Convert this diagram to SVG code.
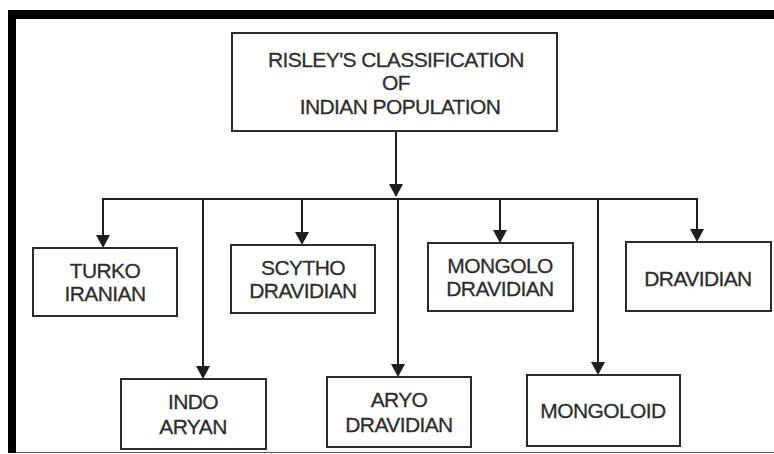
<svg xmlns="http://www.w3.org/2000/svg" width="774" height="454" viewBox="0 0 774 454">
<style>
.box{fill:#fff;stroke:#2b2b2b;stroke-width:2}
.t{font-family:"Liberation Sans",Arial,sans-serif;font-size:21px;fill:#2e2e2e;stroke:#2e2e2e;stroke-width:0.3;text-anchor:middle;letter-spacing:-0.6px}
.c{stroke:#1e1e1e;stroke-width:2;fill:none}
.ah{fill:#1e1e1e}
</style>
<rect width="774" height="454" fill="#fff"/>
<g id="frame">
<rect x="8" y="10" width="766" height="9" fill="#000"/>
<rect x="8" y="10" width="8" height="443" fill="#000"/>
<line x1="16" y1="452.5" x2="774" y2="452.5" stroke="#555" stroke-width="1"/>
</g>
<g id="connectors">
<path class="c" d="M396,131 V184"/>
<path class="ah" d="M389,184 L403,184 L396,197 Z"/>
<path class="c" d="M102,199 H698"/>
<path class="c" d="M103,199 V236"/><path class="ah" d="M96,235 L110,235 L103,248 Z"/>
<path class="c" d="M203,199 V367"/><path class="ah" d="M196,366 L210,366 L203,379 Z"/>
<path class="c" d="M302,199 V233"/><path class="ah" d="M295,232 L309,232 L302,245 Z"/>
<path class="c" d="M398,199 V365"/><path class="ah" d="M391,364 L405,364 L398,377 Z"/>
<path class="c" d="M500,199 V231"/><path class="ah" d="M493,230 L507,230 L500,243 Z"/>
<path class="c" d="M598,199 V363"/><path class="ah" d="M591,362 L605,362 L598,375 Z"/>
<path class="c" d="M697,199 V230"/><path class="ah" d="M690,229 L704,229 L697,242 Z"/>
</g>
<g id="root">
<rect class="box" x="232" y="33" width="325" height="98"/>
<text class="t" x="396" y="67">RISLEY'S CLASSIFICATION</text>
<text class="t" x="396" y="90">OF</text>
<text class="t" x="400" y="114">INDIAN POPULATION</text>
</g>
<g id="turko-iranian">
<rect class="box" x="33" y="248" width="144" height="68"/>
<text class="t" x="105" y="278">TURKO</text>
<text class="t" x="105" y="301">IRANIAN</text>
</g>
<g id="scytho-dravidian">
<rect class="box" x="231" y="245" width="144" height="68"/>
<text class="t" x="303" y="275">SCYTHO</text>
<text class="t" x="303" y="298">DRAVIDIAN</text>
</g>
<g id="mongolo-dravidian">
<rect class="box" x="428" y="243" width="145" height="68"/>
<text class="t" x="500" y="273">MONGOLO</text>
<text class="t" x="500" y="296">DRAVIDIAN</text>
</g>
<g id="dravidian">
<rect class="box" x="626" y="242" width="145" height="69"/>
<text class="t" x="698" y="286">DRAVIDIAN</text>
</g>
<g id="indo-aryan">
<rect class="box" x="121" y="379" width="145" height="70"/>
<text class="t" x="193" y="409">INDO</text>
<text class="t" x="193" y="434">ARYAN</text>
</g>
<g id="aryo-dravidian">
<rect class="box" x="327" y="377" width="144" height="70"/>
<text class="t" x="399" y="407">ARYO</text>
<text class="t" x="399" y="432">DRAVIDIAN</text>
</g>
<g id="mongoloid">
<rect class="box" x="527" y="375" width="153" height="71"/>
<text class="t" x="603" y="418">MONGOLOID</text>
</g>
</svg>
